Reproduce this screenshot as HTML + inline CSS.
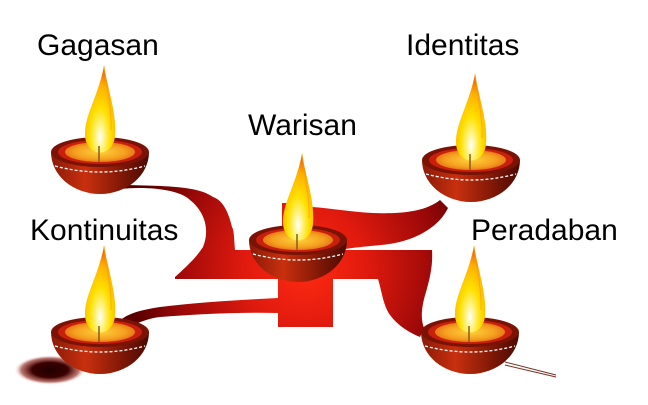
<!DOCTYPE html>
<html><head><meta charset="utf-8"><style>
html,body{margin:0;padding:0;background:#fff;}
svg{display:block;}
text{font-family:"Liberation Sans",sans-serif;font-size:30px;fill:#000;}
</style></head><body>
<svg width="648" height="405" viewBox="0 0 648 405" xmlns="http://www.w3.org/2000/svg">
<defs>
<radialGradient id="rib" cx="305" cy="268" r="175" gradientUnits="userSpaceOnUse">
<stop offset="0" stop-color="#ff2a12"/><stop offset="0.35" stop-color="#e01a0e"/><stop offset="0.75" stop-color="#9a0808"/><stop offset="1" stop-color="#5a0000"/>
</radialGradient>
<linearGradient id="bowl" x1="0" y1="0" x2="1" y2="0">
<stop offset="0" stop-color="#8a1a08"/><stop offset="0.35" stop-color="#c8300e"/><stop offset="0.75" stop-color="#7a1606"/><stop offset="1" stop-color="#4a0a02"/>
</linearGradient>
<radialGradient id="oil" cx="0.5" cy="0.5" r="0.6">
<stop offset="0" stop-color="#ffd23a"/><stop offset="0.6" stop-color="#f5a020"/><stop offset="1" stop-color="#e06010"/>
</radialGradient>
<radialGradient id="flame" cx="0.5" cy="0.82" r="0.75">
<stop offset="0" stop-color="#ffffff"/><stop offset="0.18" stop-color="#fff48a"/><stop offset="0.45" stop-color="#ffe000"/><stop offset="0.8" stop-color="#ffb000"/><stop offset="1" stop-color="#f07000"/>
</radialGradient>
<radialGradient id="shadow" cx="0.5" cy="0.5" r="0.5">
<stop offset="0" stop-color="#200000"/><stop offset="0.5" stop-color="#3a0000"/><stop offset="0.8" stop-color="#8a1a10" stop-opacity="0.6"/><stop offset="1" stop-color="#fff" stop-opacity="0"/>
</radialGradient>
<g id="lamp">
<path d="M-49,0 A49,42 0 0 0 49,0 Z" fill="url(#bowl)"/>
<ellipse cx="0" cy="0" rx="49" ry="15" fill="#7a1206"/>
<ellipse cx="0" cy="0" rx="42" ry="12" fill="#c8200c"/>
<ellipse cx="0" cy="0" rx="35" ry="10" fill="url(#oil)"/>
<path d="M-45,14 Q0,26 45,14" fill="none" stroke="#fff" stroke-width="1.3" stroke-dasharray="3,2"/>
<path d="M4,-86 C8,-62 17,-38 15,-16 C13,6 -13,6 -15,-16 C-16,-36 -2,-55 4,-86 Z" fill="url(#flame)"/>
<path d="M4,-86 C7,-62 12,-40 11,-22" fill="none" stroke="#ff9a00" stroke-width="1" opacity="0.7"/>
<line x1="-1" y1="-6" x2="-1" y2="10" stroke="#8a5a20" stroke-width="1.5"/>
</g>
</defs>

<ellipse cx="50" cy="370" rx="36" ry="15" fill="url(#shadow)"/>
<line x1="505" y1="362" x2="556" y2="375" stroke="#7a3020" stroke-width="1"/>
<line x1="505" y1="365" x2="556" y2="377" stroke="#7a3020" stroke-width="1"/>

<path fill="url(#rib)" d="
M120,189 C150,186 180,190 190,200 C205,212 210,230 203,247 C196,258 185,268 175,277 L175,279
L278,279 L278,327 L333,327 L333,279 L378,279 C382,292 383,305 390,315 C398,326 410,333 420,337 L424,328
C420,318 422,305 426,292 C430,278 433,265 432,250 L340,250
C360,246 380,246 395,243 C420,238 440,225 448,208 L440,200
C425,212 400,214 373,213 C350,212 330,208 312,207 L312,203 L282,203 L282,250
L235,250 C234,238 234,230 232,227 C228,210 222,200 213,197 C200,188 180,186 125,185 Z"/>
<path fill="url(#rib)" d="M278,298 C240,300 200,302 160,307 C140,310 128,314 122,319 L128,327 C140,322 150,318 160,317 C200,314 240,312 280,313 C300,316 315,322 333,327 L333,300 Z"/>

<use href="#lamp" x="100" y="152"/>
<use href="#lamp" x="471" y="160"/>
<use href="#lamp" x="298" y="240"/>
<use href="#lamp" x="100" y="332"/>
<use href="#lamp" x="470" y="332"/>

<text x="37" y="55">Gagasan</text>
<text x="406" y="55">Identitas</text>
<text x="248" y="135">Warisan</text>
<text x="30" y="240">Kontinuitas</text>
<text x="471" y="240">Peradaban</text>
</svg>
</body></html>
